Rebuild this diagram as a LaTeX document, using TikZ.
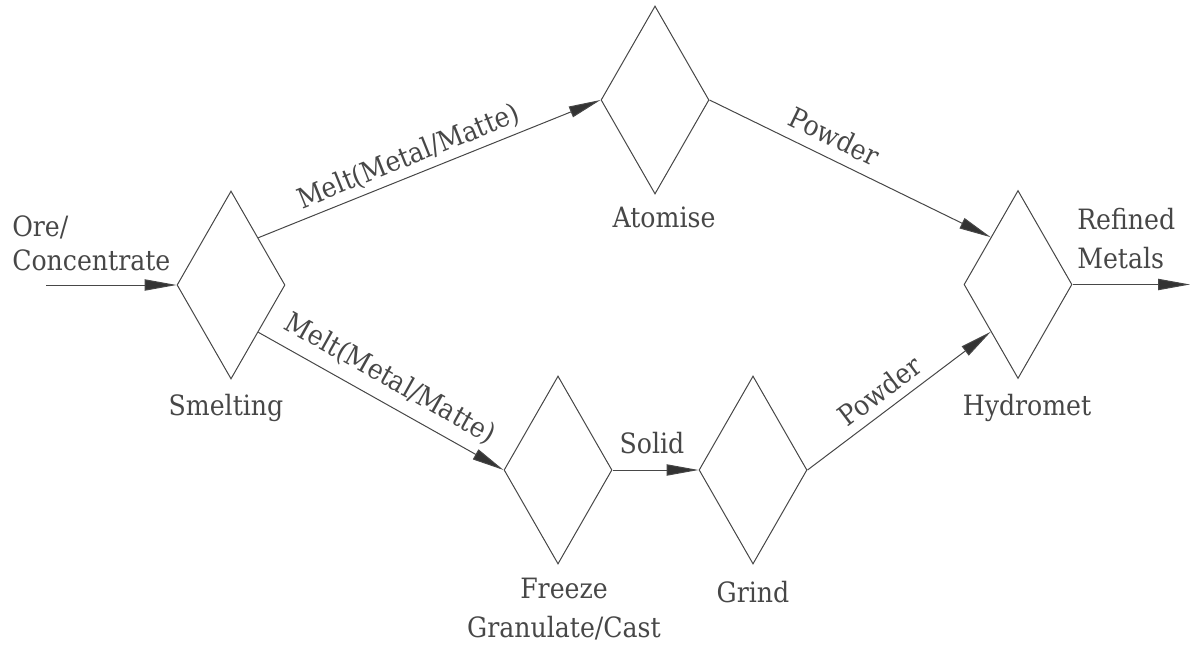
\documentclass[tikz,border=0pt]{standalone}
\usepackage{fontspec}
\newfontfamily\lblfont{DejaVu Serif Condensed}
\usetikzlibrary{shapes.geometric,arrows.meta}
\begin{document}
\begin{tikzpicture}[x=0.75pt,y=-0.75pt,
  proc/.style={diamond, draw=black!72, line width=0.75pt, minimum width=81pt, minimum height=141pt, inner sep=0pt},
  flow/.style={draw=black!72, line width=0.75pt, -{Triangle[length=24pt,width=8.5pt,fill=black!80]}},
  lbl/.style={font=\lblfont\fontsize{21pt}{25pt}\selectfont, text=black!72, inner sep=0pt},
  lblsl/.style={lbl, sloped, anchor=south, inner xsep=0pt, inner ysep=#1},
]
\useasboundingbox (0,0) rectangle (1191,645);
% process diamonds
\node[proc] (smelt) at (231,285) {};
\node[proc] (atom) at (655,100) {};
\node[proc] (freeze) at (558,470) {};
\node[proc] (grind) at (753,470) {};
\node[proc] (hydro) at (1018,284.5) {};
% free ends
\coordinate (in) at (46,285);
\coordinate (out) at (1190,284.5);
% connectors
\draw[flow] (in) -- (smelt.west);
\draw[flow] (smelt.north east) -- node[lblsl=4pt, pos=0.46] {Melt(Metal/Matte)} (atom.west);
\draw[flow] (smelt.south east) -- node[lblsl=8pt, pos=0.49] {Melt(Metal/Matte)} (freeze.west);
\draw[flow] (atom.east) -- node[lblsl=8pt, pos=0.41] {Powder} (hydro.north west);
\draw[flow] (freeze.east) -- (grind.west);
\draw[flow] (grind.east) -- node[lblsl=6.4pt, pos=0.46] {Powder} (hydro.south west);
\draw[flow] (hydro.east) -- (out);
% labels
\node[lbl, anchor=base west] (orelbl) at (12,271) {\fontsize{21pt}{25.5pt}\selectfont\begin{tabular}[b]{@{}l@{}}Ore/\\Concentrate\end{tabular}};
\node[lbl, anchor=base] (smeltlbl) at (226,415) {Smelting};
\node[lbl, anchor=base] (atomlbl) at (664,228) {Atomise};
\node[lbl, anchor=base] (solidlbl) at (652,453) {Solid};
\node[lbl, anchor=base] (freezelbl) at (564,637) {\fontsize{21pt}{29.25pt}\selectfont\begin{tabular}[b]{@{}c@{}}Freeze\\Granulate/Cast\end{tabular}};
\node[lbl, anchor=base] (grindlbl) at (753,602) {Grind};
\node[lbl, anchor=base] (hydrolbl) at (1027,415) {Hydromet};
\node[lbl, anchor=base west] (reflbl) at (1077,268) {\fontsize{21pt}{29.25pt}\selectfont\begin{tabular}[b]{@{}l@{}}Refined\\Metals\end{tabular}};
\end{tikzpicture}
\end{document}
